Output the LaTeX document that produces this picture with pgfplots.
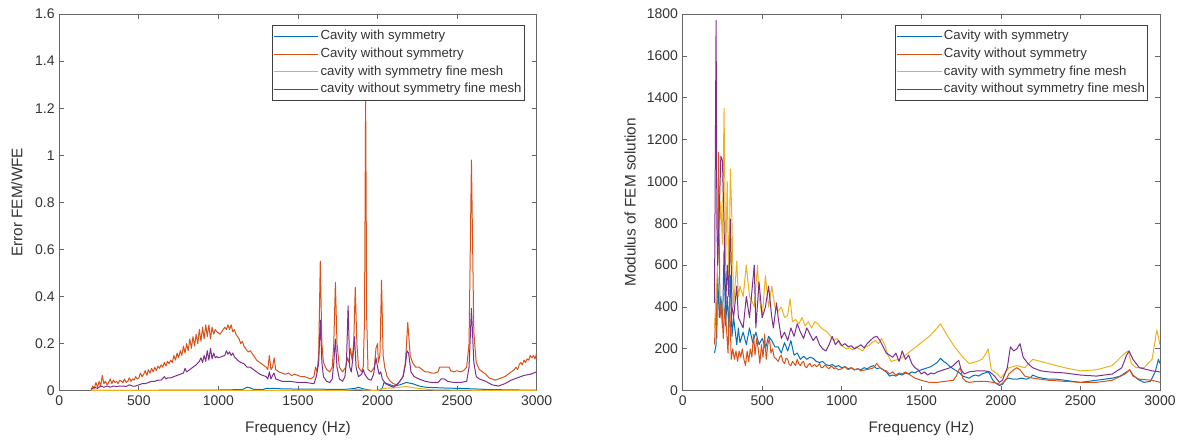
\documentclass[border=0pt]{standalone}
\usepackage{fontspec}
\setmainfont{Liberation Sans}
\usepackage{pgfplots}
\pgfplotsset{compat=1.18}
\definecolor{mblue}{rgb}{0,0.447,0.741}
\definecolor{morange}{rgb}{0.850,0.325,0.098}
\definecolor{myellow}{rgb}{0.929,0.694,0.125}
\definecolor{mpurple}{rgb}{0.494,0.184,0.556}
\definecolor{axgrey}{rgb}{0.40,0.40,0.40}
\definecolor{txgrey}{rgb}{0.20,0.20,0.20}
\pgfplotsset{
  mstyle/.style={
    scale only axis, width=358pt, height=282.5pt,
    xmin=0, xmax=3000, xtick={0,500,...,3000},
    axis line style={axgrey, line width=0.6pt},
    tick style={axgrey, line width=0.6pt},
    major tick length=3.5pt,
    tick align=inside,
    xtick pos=both, ytick pos=both,
    ticklabel style={font=\fontsize{10.5}{12}\selectfont, text=txgrey},
    /pgf/number format/assume math mode=true,
    /pgf/number format/1000 sep={},
    label style={font=\fontsize{11.5}{13}\selectfont, text=txgrey},
    xlabel={Frequency (Hz)},
    xlabel style={at={(axis description cs:0.5,-0.1016)}, anchor=center},
    legend cell align=left,
    legend style={at={(axis description cs:1,1)}, anchor=north east,
      xshift=-8.8pt, yshift=-8.25pt, draw=black!75, line width=0.6pt,
      font=\fontsize{9.9}{11}\selectfont, text=txgrey,
      inner xsep=1pt, inner ysep=1.5pt, row sep=0pt,
      nodes={inner xsep=1.2pt, inner ysep=2pt, text height=7.2pt, text depth=2.1pt}},
    legend image code/.code={\draw[#1, line width=0.8pt] (0pt,0pt) -- (33.5pt,0pt);},
    every axis plot/.append style={line width=0.75pt, mark=none, line join=round},
  }
}
\begin{document}
\begin{tikzpicture}
\useasboundingbox (0,0) rectangle (888pt,332.25pt);
% ---------------- left axis ----------------
\begin{axis}[mstyle, at={(44.5pt,39.2pt)}, anchor=south west,
  ymin=0, ymax=1.6, ytick={0,0.2,...,1.6},
  yticklabels={0,0.2,0.4,0.6,0.8,1,1.2,1.4,1.6},
  ylabel={Error FEM/WFE},
  ylabel style={at={(axis description cs:-0.0887,0.5)}, anchor=center}]
\addplot[mblue] coordinates {(200,0.001)(600,0.002)(1000,0.003)(1150,0.005)(1180,0.015)(1200,0.012)(1220,0.006)(1280,0.005)(1300,0.01)(1350,0.01)(1400,0.008)(1500,0.007)(1600,0.007)(1700,0.006)(1800,0.006)(1860,0.01)(1880,0.015)(1900,0.01)(1930,0.005)(1960,0.002)(2000,0.001)(2030,0.01)(2040,0.035)(2060,0.03)(2100,0.02)(2140,0.025)(2180,0.035)(2220,0.03)(2260,0.02)(2300,0.015)(2400,0.012)(2500,0.01)(2600,0.008)(2700,0.005)(2800,0.004)(3000,0.002)};
\addlegendentry{Cavity with symmetry}
\addplot[morange] coordinates {(200,0.005)(210,0.02)(220,0.01)(230,0.035)(240,0.015)(250,0.04)(260,0.02)(270,0.065)(280,0.03)(290,0.04)(300,0.025)(310,0.035)(320,0.05)(330,0.03)(340,0.045)(350,0.035)(360,0.04)(370,0.03)(380,0.045)(390,0.04)(400,0.035)(410,0.05)(420,0.035)(430,0.04)(440,0.055)(450,0.04)(460,0.05)(470,0.045)(480,0.06)(490,0.05)(500,0.055)(510,0.075)(520,0.06)(530,0.07)(540,0.085)(550,0.065)(560,0.09)(570,0.075)(580,0.095)(590,0.08)(600,0.1)(610,0.085)(620,0.105)(630,0.095)(640,0.11)(650,0.1)(660,0.12)(670,0.105)(680,0.125)(690,0.115)(700,0.13)(710,0.12)(720,0.15)(730,0.13)(740,0.16)(750,0.14)(760,0.17)(770,0.15)(780,0.19)(790,0.16)(800,0.2)(810,0.17)(820,0.22)(830,0.18)(840,0.23)(850,0.19)(860,0.24)(870,0.2)(880,0.26)(890,0.21)(900,0.27)(910,0.22)(920,0.28)(930,0.23)(940,0.28)(950,0.22)(960,0.27)(970,0.24)(980,0.26)(990,0.25)(1000,0.245)(1010,0.24)(1020,0.25)(1030,0.26)(1040,0.27)(1050,0.26)(1060,0.28)(1070,0.26)(1080,0.28)(1090,0.25)(1100,0.26)(1110,0.24)(1120,0.23)(1130,0.22)(1140,0.2)(1150,0.21)(1160,0.19)(1170,0.18)(1180,0.17)(1190,0.165)(1200,0.17)(1220,0.15)(1240,0.13)(1260,0.12)(1280,0.11)(1300,0.1)(1310,0.09)(1320,0.15)(1330,0.09)(1340,0.1)(1350,0.14)(1360,0.09)(1380,0.08)(1400,0.075)(1420,0.07)(1440,0.075)(1460,0.065)(1480,0.07)(1500,0.065)(1520,0.06)(1540,0.06)(1560,0.055)(1580,0.05)(1600,0.06)(1610,0.1)(1620,0.08)(1630,0.15)(1640,0.55)(1650,0.2)(1660,0.12)(1680,0.09)(1700,0.08)(1715,0.1)(1725,0.2)(1735,0.46)(1745,0.2)(1760,0.1)(1780,0.08)(1800,0.1)(1810,0.14)(1820,0.12)(1830,0.18)(1840,0.13)(1850,0.2)(1860,0.44)(1870,0.2)(1880,0.1)(1890,0.09)(1900,0.08)(1910,0.1)(1918,0.3)(1925,1.25)(1932,0.3)(1940,0.09)(1960,0.08)(1980,0.1)(1990,0.18)(2000,0.2)(2005,0.12)(2015,0.15)(2025,0.47)(2035,0.15)(2045,0.1)(2060,0.06)(2080,0.04)(2100,0.03)(2120,0.025)(2140,0.04)(2160,0.06)(2175,0.12)(2190,0.29)(2205,0.15)(2220,0.12)(2240,0.1)(2260,0.1)(2280,0.09)(2300,0.08)(2320,0.08)(2340,0.075)(2360,0.075)(2380,0.08)(2390,0.1)(2420,0.1)(2450,0.1)(2460,0.085)(2480,0.08)(2500,0.085)(2520,0.08)(2540,0.085)(2560,0.1)(2575,0.2)(2590,0.98)(2605,0.25)(2620,0.12)(2640,0.09)(2660,0.08)(2680,0.07)(2700,0.055)(2720,0.05)(2740,0.045)(2760,0.05)(2780,0.055)(2800,0.06)(2820,0.07)(2840,0.08)(2860,0.09)(2870,0.1)(2880,0.09)(2890,0.11)(2900,0.12)(2910,0.11)(2920,0.13)(2930,0.12)(2940,0.135)(2950,0.13)(2960,0.15)(2970,0.14)(2980,0.15)(2990,0.135)(3000,0.16)};
\addlegendentry{Cavity without symmetry}
\addplot[myellow] coordinates {(200,0)(1000,0.001)(1800,0.002)(1880,0.006)(1920,0.003)(2000,0.001)(2040,0.01)(2100,0.012)(2180,0.018)(2250,0.01)(2350,0.004)(2600,0.002)(3000,0.001)};
\addlegendentry{cavity with symmetry fine mesh}
\addplot[mpurple] coordinates {(200,0.005)(220,0.015)(240,0.01)(260,0.02)(280,0.015)(300,0.02)(320,0.015)(340,0.02)(360,0.018)(380,0.02)(400,0.02)(420,0.018)(440,0.025)(460,0.02)(480,0.02)(500,0.025)(520,0.03)(540,0.03)(560,0.035)(580,0.04)(600,0.04)(620,0.045)(640,0.045)(660,0.06)(670,0.05)(680,0.055)(700,0.055)(720,0.06)(740,0.065)(760,0.07)(780,0.075)(790,0.095)(800,0.08)(820,0.09)(840,0.1)(860,0.11)(880,0.125)(890,0.14)(900,0.12)(910,0.15)(920,0.125)(930,0.17)(940,0.13)(950,0.18)(960,0.135)(970,0.16)(980,0.14)(990,0.145)(1000,0.14)(1020,0.145)(1040,0.15)(1050,0.17)(1060,0.155)(1070,0.165)(1080,0.15)(1090,0.16)(1100,0.145)(1120,0.13)(1140,0.12)(1160,0.115)(1180,0.1)(1200,0.1)(1220,0.09)(1240,0.08)(1260,0.07)(1280,0.065)(1300,0.06)(1310,0.05)(1320,0.08)(1330,0.05)(1340,0.065)(1350,0.075)(1360,0.05)(1380,0.045)(1400,0.04)(1450,0.04)(1500,0.035)(1550,0.035)(1600,0.03)(1615,0.06)(1630,0.12)(1640,0.3)(1650,0.12)(1660,0.06)(1680,0.04)(1700,0.035)(1715,0.05)(1725,0.12)(1735,0.22)(1745,0.1)(1760,0.05)(1780,0.04)(1795,0.06)(1805,0.13)(1815,0.36)(1825,0.1)(1835,0.08)(1845,0.14)(1855,0.23)(1865,0.1)(1880,0.06)(1900,0.07)(1910,0.09)(1920,0.07)(1940,0.05)(1960,0.045)(1975,0.07)(1990,0.14)(2000,0.1)(2010,0.07)(2020,0.08)(2030,0.05)(2050,0.03)(2080,0.02)(2100,0.015)(2120,0.025)(2140,0.04)(2160,0.06)(2175,0.11)(2185,0.17)(2195,0.16)(2210,0.08)(2230,0.06)(2260,0.05)(2300,0.04)(2340,0.035)(2380,0.035)(2400,0.05)(2420,0.05)(2440,0.04)(2480,0.035)(2520,0.035)(2560,0.04)(2575,0.1)(2590,0.35)(2605,0.12)(2620,0.06)(2640,0.05)(2680,0.04)(2720,0.025)(2760,0.02)(2800,0.03)(2840,0.045)(2880,0.055)(2920,0.065)(2960,0.07)(3000,0.08)};
\addlegendentry{cavity without symmetry fine mesh}
\end{axis}
% ---------------- right axis ----------------
\begin{axis}[mstyle, at={(512pt,39.2pt)}, anchor=south west,
  ymin=0, ymax=1800, ytick={0,200,...,1800},
  ylabel={Modulus of FEM solution},
  ylabel style={at={(axis description cs:-0.110,0.5)}, anchor=center}]
\addplot[mblue] coordinates {(200,180)(210,220)(220,550)(230,350)(240,450)(250,300)(260,670)(270,310)(280,450)(290,300)(300,550)(310,260)(320,350)(340,220)(350,300)(360,230)(380,280)(400,220)(420,300)(440,230)(460,280)(480,220)(500,250)(520,200)(540,260)(560,240)(580,210)(600,210)(620,180)(640,230)(660,190)(680,240)(700,170)(720,180)(740,150)(760,165)(780,150)(800,160)(820,155)(840,140)(860,135)(880,140)(900,125)(920,120)(940,125)(960,115)(980,120)(1000,110)(1020,115)(1040,105)(1060,110)(1080,100)(1100,105)(1120,100)(1140,110)(1160,105)(1180,115)(1200,120)(1220,105)(1240,110)(1260,100)(1280,90)(1300,70)(1320,75)(1340,70)(1360,80)(1380,75)(1400,85)(1420,80)(1440,90)(1460,85)(1480,95)(1500,100)(1520,105)(1540,110)(1560,115)(1580,125)(1600,135)(1620,155)(1640,140)(1660,130)(1680,115)(1700,105)(1720,95)(1740,85)(1760,70)(1780,65)(1800,60)(1820,70)(1840,75)(1860,70)(1880,80)(1900,85)(1920,90)(1930,80)(1950,50)(1970,35)(1990,25)(2010,30)(2030,55)(2050,60)(2080,55)(2100,55)(2130,60)(2160,55)(2190,65)(2200,75)(2230,65)(2260,60)(2300,55)(2350,55)(2400,50)(2450,45)(2500,40)(2550,45)(2600,50)(2650,55)(2700,60)(2750,70)(2790,90)(2810,100)(2830,75)(2860,55)(2900,40)(2940,45)(2970,90)(2990,150)(3000,130)};
\addlegendentry{Cavity with symmetry}
\addplot[morange] coordinates {(200,220)(210,420)(215,250)(225,1140)(235,350)(245,430)(255,250)(265,400)(275,300)(285,180)(295,450)(305,150)(315,200)(325,150)(335,190)(345,140)(355,190)(365,160)(375,200)(385,150)(395,120)(405,190)(415,140)(425,200)(435,160)(445,270)(455,170)(465,250)(475,200)(485,130)(495,220)(505,160)(515,270)(525,150)(535,220)(545,250)(555,180)(565,200)(575,160)(590,150)(600,140)(610,160)(620,170)(630,140)(640,130)(650,155)(660,150)(670,125)(680,120)(690,140)(700,130)(710,120)(720,150)(730,130)(740,120)(750,135)(760,140)(770,115)(780,110)(790,125)(800,130)(810,115)(820,120)(830,125)(840,115)(850,120)(860,130)(870,110)(880,110)(890,120)(900,120)(910,110)(920,105)(930,115)(940,115)(950,105)(960,110)(980,100)(1000,105)(1020,115)(1040,100)(1060,110)(1080,100)(1100,105)(1120,95)(1150,100)(1180,105)(1200,110)(1220,130)(1240,110)(1260,100)(1280,95)(1300,80)(1320,90)(1340,75)(1360,85)(1380,80)(1400,90)(1420,80)(1440,70)(1460,60)(1480,55)(1500,50)(1550,40)(1600,40)(1650,45)(1700,50)(1720,70)(1735,100)(1745,110)(1760,60)(1780,45)(1800,40)(1850,45)(1900,45)(1950,40)(2000,30)(2030,50)(2050,80)(2080,100)(2100,110)(2120,100)(2150,70)(2200,60)(2300,50)(2400,45)(2500,40)(2600,40)(2700,50)(2780,80)(2810,100)(2830,70)(2870,55)(2950,50)(3000,40)};
\addlegendentry{Cavity without symmetry}
\addplot[myellow] coordinates {(200,300)(220,600)(240,900)(250,700)(260,1350)(270,600)(280,1000)(290,500)(300,1060)(310,800)(320,400)(340,620)(350,450)(360,500)(380,450)(400,600)(420,450)(440,420)(450,400)(470,600)(480,450)(500,350)(520,550)(540,400)(560,500)(580,400)(600,380)(620,400)(640,350)(660,360)(675,440)(690,330)(710,340)(730,320)(750,350)(770,310)(790,330)(810,300)(830,330)(850,320)(870,300)(890,290)(910,280)(930,260)(950,240)(970,250)(990,220)(1010,210)(1030,200)(1050,205)(1070,195)(1090,210)(1110,200)(1130,190)(1150,210)(1170,215)(1190,230)(1210,240)(1230,225)(1250,250)(1270,220)(1290,170)(1310,140)(1330,145)(1360,150)(1400,170)(1450,200)(1500,230)(1550,260)(1600,300)(1620,320)(1650,280)(1700,220)(1750,170)(1800,130)(1850,140)(1880,150)(1900,170)(1920,200)(1940,100)(1980,80)(2000,60)(2050,110)(2100,120)(2150,110)(2200,150)(2300,130)(2400,110)(2500,95)(2600,100)(2700,120)(2780,180)(2800,190)(2820,130)(2850,110)(2900,110)(2950,150)(2980,290)(3000,220)};
\addlegendentry{cavity with symmetry fine mesh}
\addplot[mpurple] coordinates {(200,420)(210,1770)(215,800)(220,600)(240,1120)(250,1100)(260,800)(270,400)(280,600)(290,450)(300,820)(310,400)(320,350)(340,500)(350,350)(380,300)(400,450)(420,350)(450,600)(460,300)(480,520)(500,350)(520,400)(540,500)(560,350)(570,300)(590,420)(600,350)(620,250)(640,280)(660,240)(680,300)(700,260)(720,320)(740,280)(760,250)(780,300)(800,270)(820,240)(840,260)(860,220)(880,200)(900,190)(920,220)(940,260)(960,220)(980,240)(1000,215)(1020,225)(1040,210)(1060,215)(1080,200)(1100,210)(1120,220)(1140,205)(1160,225)(1180,240)(1200,255)(1220,260)(1240,240)(1260,210)(1280,180)(1300,170)(1320,160)(1340,180)(1360,140)(1380,190)(1400,150)(1420,170)(1440,130)(1460,110)(1480,100)(1500,80)(1520,90)(1540,75)(1560,85)(1580,80)(1600,90)(1620,95)(1640,100)(1660,105)(1680,110)(1700,120)(1720,135)(1735,145)(1750,100)(1770,80)(1800,90)(1850,95)(1900,95)(1930,90)(1960,70)(1990,40)(2010,50)(2040,110)(2060,210)(2080,190)(2100,200)(2120,225)(2140,160)(2170,130)(2200,110)(2250,95)(2300,90)(2400,85)(2500,75)(2600,70)(2700,80)(2760,110)(2790,170)(2805,190)(2830,150)(2870,110)(2950,95)(3000,90)};
\addlegendentry{cavity without symmetry fine mesh}
\end{axis}
\end{tikzpicture}
\end{document}
